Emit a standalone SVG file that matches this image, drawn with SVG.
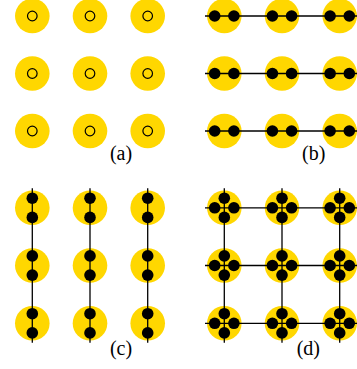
<svg xmlns="http://www.w3.org/2000/svg" width="357" height="369" viewBox="0 0 357 369">
<defs>
<style>
.site{fill:#FFD700}
.ring{fill:none;stroke:#000;stroke-width:1.2}
.dot{fill:#000}
.link{stroke:#000;stroke-width:1.3;fill:none}
.lbl{font-family:"Liberation Serif","Times New Roman",serif;font-size:20px;fill:#000;text-anchor:middle}
</style>
<g id="s0"><circle class="site" r="17.3"/><circle class="ring" r="4.8"/></g>
<g id="s2h"><circle class="site" r="17.3"/><circle class="dot" cx="-9.6" r="5.8"/><circle class="dot" cx="9.6" r="5.8"/></g>
<g id="s2v"><circle class="site" r="17.3"/><circle class="dot" cy="-9.6" r="5.8"/><circle class="dot" cy="9.6" r="5.8"/></g>
<g id="s4"><circle class="site" r="17.3"/><circle class="dot" cx="-9.6" r="5.8"/><circle class="dot" cx="9.6" r="5.8"/><circle class="dot" cy="-9.6" r="5.8"/><circle class="dot" cy="9.6" r="5.8"/></g>
</defs>

<!-- panel (a) -->
<g id="panel-a">
<use id="a11" href="#s0" x="32.3" y="16"/>
<use id="a12" href="#s0" x="90" y="16"/>
<use id="a13" href="#s0" x="147.7" y="16"/>
<use id="a21" href="#s0" x="32.3" y="73.5"/>
<use id="a22" href="#s0" x="90" y="73.5"/>
<use id="a23" href="#s0" x="147.7" y="73.5"/>
<use id="a31" href="#s0" x="32.3" y="131"/>
<use id="a32" href="#s0" x="90" y="131"/>
<use id="a33" href="#s0" x="147.7" y="131"/>
<text class="lbl" x="121" y="160">(a)</text>
</g>

<!-- panel (b) -->
<g id="panel-b">
<use id="b11" href="#s2h" x="224.3" y="16"/>
<use id="b12" href="#s2h" x="282" y="16"/>
<use id="b13" href="#s2h" x="339.7" y="16"/>
<use id="b21" href="#s2h" x="224.3" y="73.5"/>
<use id="b22" href="#s2h" x="282" y="73.5"/>
<use id="b23" href="#s2h" x="339.7" y="73.5"/>
<use id="b31" href="#s2h" x="224.3" y="131"/>
<use id="b32" href="#s2h" x="282" y="131"/>
<use id="b33" href="#s2h" x="339.7" y="131"/>
<g id="b-connectors">
<line class="link" x1="205" y1="16" x2="357" y2="16"/>
<line class="link" x1="205" y1="73.5" x2="357" y2="73.5"/>
<line class="link" x1="205" y1="131" x2="357" y2="131"/>
</g>
<text class="lbl" x="313.7" y="160">(b)</text>
</g>

<!-- panel (c) -->
<g id="panel-c">
<use id="c11" href="#s2v" x="32.3" y="207.8"/>
<use id="c12" href="#s2v" x="90" y="207.8"/>
<use id="c13" href="#s2v" x="147.7" y="207.8"/>
<use id="c21" href="#s2v" x="32.3" y="265.5"/>
<use id="c22" href="#s2v" x="90" y="265.5"/>
<use id="c23" href="#s2v" x="147.7" y="265.5"/>
<use id="c31" href="#s2v" x="32.3" y="323.3"/>
<use id="c32" href="#s2v" x="90" y="323.3"/>
<use id="c33" href="#s2v" x="147.7" y="323.3"/>
<g id="c-connectors">
<line class="link" x1="32.3" y1="188.3" x2="32.3" y2="342.7"/>
<line class="link" x1="90" y1="188.3" x2="90" y2="342.7"/>
<line class="link" x1="147.7" y1="188.3" x2="147.7" y2="342.7"/>
</g>
<text class="lbl" x="121" y="355">(c)</text>
</g>

<!-- panel (d) -->
<g id="panel-d">
<use id="d11" href="#s4" x="224.3" y="207.8"/>
<use id="d12" href="#s4" x="282" y="207.8"/>
<use id="d13" href="#s4" x="339.7" y="207.8"/>
<use id="d21" href="#s4" x="224.3" y="265.5"/>
<use id="d22" href="#s4" x="282" y="265.5"/>
<use id="d23" href="#s4" x="339.7" y="265.5"/>
<use id="d31" href="#s4" x="224.3" y="323.3"/>
<use id="d32" href="#s4" x="282" y="323.3"/>
<use id="d33" href="#s4" x="339.7" y="323.3"/>
<g id="d-connectors">
<line class="link" x1="205" y1="207.8" x2="357" y2="207.8"/>
<line class="link" x1="205" y1="265.5" x2="357" y2="265.5"/>
<line class="link" x1="205" y1="323.3" x2="357" y2="323.3"/>
<line class="link" x1="224.3" y1="188.3" x2="224.3" y2="342.7"/>
<line class="link" x1="282" y1="188.3" x2="282" y2="342.7"/>
<line class="link" x1="339.7" y1="188.3" x2="339.7" y2="342.7"/>
</g>
<text class="lbl" x="308.3" y="355">(d)</text>
</g>
</svg>
